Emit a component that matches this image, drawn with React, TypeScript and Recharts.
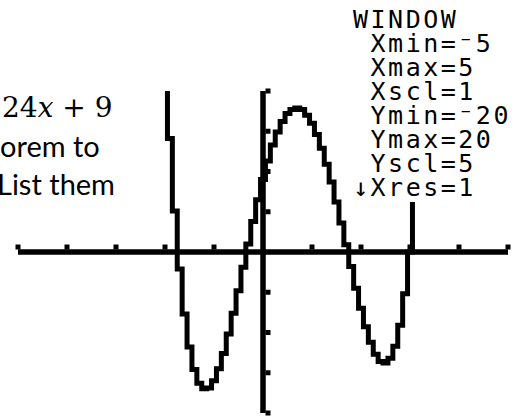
import React from 'react';
import { LineChart, Line, XAxis, YAxis, ReferenceLine, ReferenceDot } from 'recharts';

// window settings shown on the calculator
const windowLines = ['WINDOW', ' Xmin=⁻5', ' Xmax=5', ' Xscl=1', ' Ymin=⁻20', ' Ymax=20', ' Yscl=5', '↓Xres=1'];
const xDomain: [number, number] = [-5, 5];
const yDomain: [number, number] = [-20, 20];
const xTicks = [-5, -4, -3, -2, -1, 1, 2, 3, 4, 5];
const yTicks = [-20, -15, -10, -5, 5, 10, 15, 20];

// traced curve
const xValues = [
  -2.0, -1.9, -1.8, -1.7, -1.6, -1.5, -1.4, -1.3, -1.2, -1.1, -1.0, -0.9, -0.8, -0.7, -0.6, -0.5, -0.4, -0.3,
  -0.2, -0.1, 0, 0.1, 0.2, 0.3, 0.4, 0.5, 0.6, 0.7, 0.8, 0.9, 1.0, 1.1, 1.2, 1.3, 1.4, 1.5, 1.6, 1.7, 1.8, 1.9,
  2.0, 2.1, 2.2, 2.3, 2.4, 2.5, 2.6, 2.7, 2.8, 2.9, 3.0, 3.1, 3.2, 3.3,
];
const yValues = [
  25, 14.1, 5.1, -2.1, -7.7, -11.8, -14.6, -16.3, -17.0, -16.9, -16.0, -14.5, -12.6, -10.2, -7.6, -4.8, -1.9, 1.0,
  3.8, 6.5, 9, 11.3, 13.3, 14.9, 16.2, 17.2, 17.7, 17.9, 17.7, 17.0, 16.0, 14.6, 12.9, 10.9, 8.7, 6.2, 3.6, 0.9, -1.8, -4.5,
  -7.0, -9.3, -11.2, -12.7, -13.6, -13.8, -13.2, -11.7, -9.1, -5.2, 0, 6.8, 15.4, 25.8,
];

const data = xValues.map((x, i) => ({ x, y: yValues[i] }));

const px = 5;

const XTick = (p: any) => <rect x={p.cx - px / 2} y={p.cy - px / 2 - px} width={px} height={px} fill="#000" />;
const YTick = (p: any) => <rect x={p.cx + px / 2} y={p.cy - px / 2} width={px} height={px} fill="#000" />;

export default function App() {
  return (
    <div style={{ position: 'absolute', left: 0, top: 0, width: 526, height: 420, background: '#fff' }}>
      <LineChart width={526} height={420} data={data} margin={{ top: 91, right: 18, bottom: 7, left: 18 }}>
        <XAxis dataKey="x" type="number" domain={xDomain} allowDataOverflow hide />
        <YAxis type="number" domain={yDomain} allowDataOverflow hide />
        <ReferenceLine y={0} stroke="#000" strokeWidth={5.5} />
        <ReferenceLine x={0} stroke="#000" strokeWidth={5.5} />
        {xTicks.map(t => (
          <ReferenceDot key={`xt${t}`} x={t} y={0} shape={XTick} />
        ))}
        {yTicks.map(t => (
          <ReferenceDot key={`yt${t}`} x={0} y={t} shape={YTick} />
        ))}
        <Line
          dataKey="y"
          type="step"
          stroke="#000"
          strokeWidth={5}
          strokeLinejoin="miter"
          dot={false}
          isAnimationActive={false}
        />
      </LineChart>
      <svg width={526} height={420} style={{ position: 'absolute', left: 0, top: 0, pointerEvents: 'none' }}>
        <text x={2} y={117} fontFamily="'DejaVu Serif'" fontSize={28} fill="#000">
          24<tspan fontStyle="italic">x</tspan> + 9
        </text>
        <text x={0} y={157} fontFamily="Lato" fontSize={29} fill="#000">orem to</text>
        <text x={-3} y={195} fontFamily="Lato" fontSize={29} fill="#000">List them</text>
        <rect x={348} y={0} width={178} height={202} fill="#fff" />
        {windowLines.map((line, i) => (
          <text
            key={line}
            x={353}
            y={28 + i * 24}
            fontFamily="'DejaVu Sans Mono'"
            fontSize={25}
            letterSpacing={2.5}
            fill="#000"
            style={{ whiteSpace: 'pre' }}
          >
            {line}
          </text>
        ))}
      </svg>
    </div>
  );
}
